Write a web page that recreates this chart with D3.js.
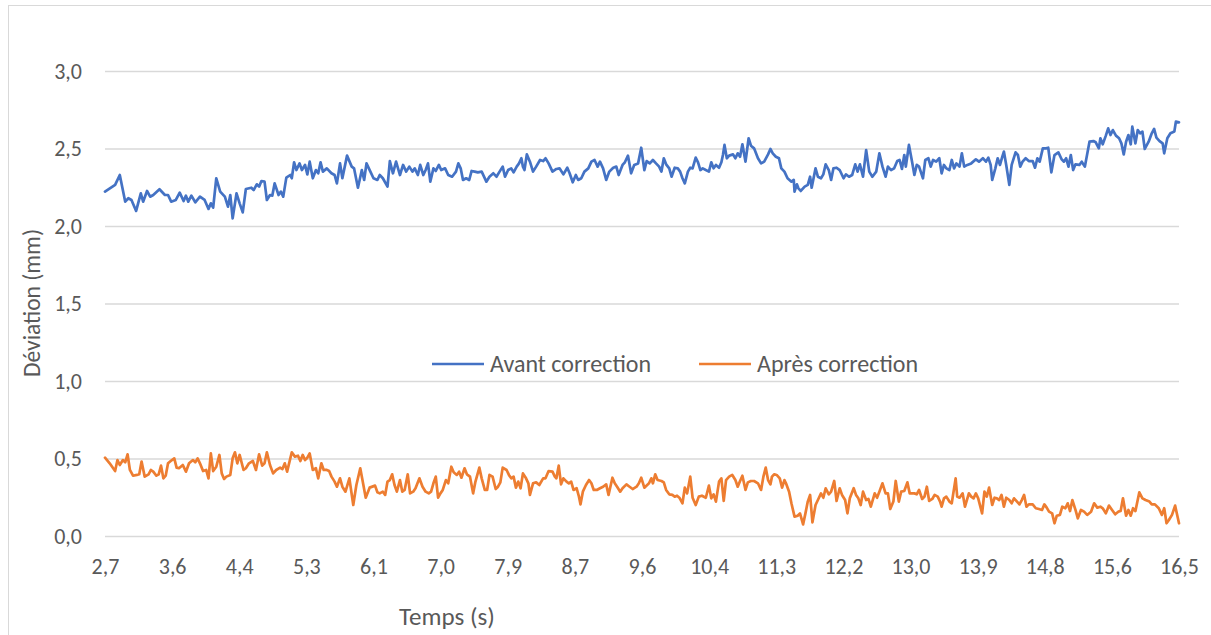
<!DOCTYPE html>
<html><head><meta charset="utf-8">
<script src="https://cdn.jsdelivr.net/npm/d3@7"></script>
<style>
html,body{margin:0;padding:0;background:#fff;}
svg{display:block;}
text{font-family:Carlito,Calibri,Lato,"Open Sans",sans-serif;fill:#595959;}
</style></head>
<body>
<svg id="chart" width="1211" height="635"></svg>
<script>
// ---- data ----
const seriesNames = ["Avant correction", "Après correction"];
const yTicks = [0, 0.5, 1.0, 1.5, 2.0, 2.5, 3.0];
const xTickTimes = [2.7, 3.5625, 4.425, 5.2875, 6.15, 7.0125, 7.875, 8.7375, 9.6, 10.4625, 11.325, 12.1875, 13.05, 13.9125, 14.775, 15.6375, 16.5];
const xTickLabels = ["2,7","3,6","4,4","5,3","6,1","7,0","7,9","8,7","9,6","10,4","11,3","12,2","13,0","13,9","14,8","15,6","16,5"];

const avantTime = [2.70,2.83,2.89,2.96,3.00,3.04,3.10,3.16,3.19,3.24,3.28,3.32,3.40,3.47,3.51,3.55,3.61,3.66,3.71,3.74,3.77,3.81,3.86,3.92,3.98,4.03,4.06,4.09,4.13,4.18,4.24,4.28,4.31,4.34,4.39,4.43,4.47,4.51,4.58,4.61,4.65,4.68,4.71,4.75,4.78,4.82,4.85,4.88,4.93,4.96,4.99,5.03,5.08,5.10,5.13,5.16,5.20,5.23,5.27,5.30,5.33,5.37,5.41,5.44,5.47,5.50,5.55,5.61,5.65,5.68,5.72,5.75,5.81,5.87,5.90,5.95,6.00,6.03,6.06,6.11,6.15,
6.20,6.23,6.27,6.33,6.36,6.40,6.44,6.49,6.53,6.57,6.61,6.65,6.68,6.72,6.75,6.79,6.82,6.85,6.88,6.92,6.95,6.99,7.02,7.07,7.11,7.16,7.21,7.24,7.27,7.30,7.34,7.38,7.41,7.45,7.49,7.54,7.60,7.64,7.69,7.73,7.77,7.81,7.84,7.88,7.92,7.95,7.99,8.02,8.05,8.07,8.09,8.12,8.16,8.20,8.24,8.29,8.33,8.36,8.40,8.45,8.50,8.54,8.59,8.64,8.67,8.71,8.75,8.78,8.82,8.86,8.91,8.95,8.99,9.03,9.06,9.10,9.14,9.18,9.23,9.27,9.30,9.35,9.38,9.42,9.46,9.50,9.55,9.59,9.63,
9.66,9.70,9.74,9.78,9.82,9.85,9.88,9.91,9.95,9.98,10.02,10.06,10.09,10.12,10.15,10.19,10.22,10.25,10.29,10.32,10.35,10.38,10.42,10.46,10.49,10.52,10.55,10.59,10.62,10.64,10.66,10.69,10.72,10.77,10.80,10.83,10.86,10.89,10.93,10.95,10.97,11.00,11.04,11.09,11.13,11.17,11.22,11.25,11.28,11.32,11.36,11.39,11.43,11.47,11.52,11.55,11.56,11.59,11.61,11.64,11.69,11.73,11.76,11.78,11.83,11.86,11.90,11.93,11.96,12.00,12.03,12.06,12.10,12.14,12.19,12.22,12.26,12.30,12.34,12.37,12.40,12.44,12.48,12.52,12.56,12.61,12.65,12.69,12.73,12.76,12.80,12.84,12.88,12.91,12.94,12.97,12.99,13.03,13.07,13.10,
13.13,13.16,13.21,13.24,13.28,13.31,13.34,13.38,13.42,13.45,13.48,13.51,13.55,13.58,13.61,13.64,13.68,13.71,13.74,13.78,13.83,13.89,13.93,13.98,14.02,14.05,14.08,14.10,14.14,14.17,14.20,14.23,14.25,14.28,14.32,14.35,14.40,14.43,14.46,14.49,14.53,14.57,14.62,14.65,14.68,14.71,14.75,14.79,14.82,14.86,14.90,14.95,14.99,15.02,15.05,15.08,15.11,15.14,15.17,15.22,15.25,15.29,15.35,15.40,15.43,15.47,15.49,15.52,15.56,15.59,15.62,15.65,15.69,15.73,15.76,15.79,15.82,15.85,15.88,15.90,15.94,15.97,16.00,16.03,16.06,16.11,16.15,16.18,16.21,16.25,16.29,16.31,16.35,16.39,16.44,16.46,16.50];
const avantValues = [2.222,2.265,2.329,2.157,2.179,2.168,2.097,2.211,2.157,2.226,2.189,2.200,2.237,2.200,2.200,2.157,2.168,2.215,2.161,2.196,2.157,2.196,2.153,2.189,2.168,2.110,2.146,2.118,2.308,2.222,2.189,2.125,2.200,2.049,2.211,2.146,2.088,2.239,2.247,2.232,2.269,2.254,2.290,2.286,2.168,2.200,2.196,2.275,2.200,2.222,2.189,2.312,2.329,2.308,2.411,2.361,2.404,2.361,2.394,2.333,2.415,2.308,2.361,2.340,2.411,2.351,2.372,2.340,2.329,2.275,2.404,2.308,2.454,2.383,2.372,2.247,2.361,2.297,2.404,2.351,2.308,
2.297,2.329,2.308,2.254,2.419,2.340,2.415,2.329,2.394,2.351,2.383,2.351,2.372,2.329,2.394,2.329,2.361,2.404,2.286,2.372,2.355,2.394,2.361,2.372,2.329,2.318,2.351,2.404,2.372,2.297,2.308,2.297,2.355,2.351,2.346,2.351,2.286,2.318,2.340,2.318,2.351,2.383,2.318,2.361,2.372,2.346,2.383,2.404,2.437,2.383,2.361,2.462,2.415,2.351,2.383,2.426,2.419,2.437,2.404,2.351,2.368,2.372,2.333,2.376,2.340,2.282,2.329,2.297,2.308,2.351,2.372,2.415,2.426,2.383,2.415,2.372,2.297,2.351,2.376,2.383,2.329,2.394,2.411,2.454,2.340,2.394,2.404,2.505,2.361,
2.419,2.404,2.426,2.404,2.383,2.351,2.437,2.398,2.372,2.318,2.376,2.372,2.351,2.308,2.275,2.351,2.376,2.372,2.441,2.411,2.361,2.372,2.361,2.351,2.411,2.372,2.394,2.376,2.411,2.458,2.523,2.437,2.454,2.462,2.437,2.469,2.447,2.527,2.415,2.490,2.566,2.518,2.501,2.437,2.404,2.415,2.462,2.497,2.469,2.447,2.437,2.372,2.351,2.308,2.286,2.297,2.222,2.269,2.243,2.226,2.254,2.265,2.318,2.247,2.372,2.318,2.308,2.333,2.398,2.361,2.297,2.372,2.376,2.361,2.308,2.333,2.318,2.329,2.398,2.351,2.398,2.318,2.490,2.351,2.318,2.351,2.469,2.383,2.318,2.383,2.361,2.372,2.419,2.426,2.368,2.458,2.383,2.523,2.415,2.329,
2.394,2.383,2.308,2.426,2.437,2.383,2.426,2.415,2.437,2.340,2.394,2.372,2.361,2.426,2.372,2.404,2.383,2.469,2.383,2.394,2.404,2.430,2.415,2.437,2.415,2.441,2.394,2.297,2.372,2.437,2.394,2.447,2.480,2.394,2.265,2.394,2.475,2.458,2.383,2.415,2.437,2.419,2.419,2.376,2.437,2.415,2.501,2.501,2.505,2.346,2.458,2.475,2.432,2.415,2.437,2.383,2.458,2.361,2.398,2.394,2.415,2.383,2.544,2.548,2.540,2.501,2.566,2.527,2.583,2.630,2.587,2.619,2.583,2.566,2.533,2.462,2.544,2.587,2.527,2.641,2.533,2.619,2.598,2.609,2.497,2.544,2.598,2.626,2.570,2.548,2.533,2.469,2.566,2.598,2.609,2.673,2.669];

const apresTime = [2.70,2.76,2.83,2.86,2.89,2.93,2.96,2.99,3.02,3.06,3.11,3.14,3.17,3.21,3.26,3.29,3.32,3.36,3.39,3.42,3.45,3.48,3.51,3.56,3.59,3.62,3.65,3.70,3.74,3.78,3.83,3.86,3.89,3.92,3.96,4.00,4.03,4.06,4.09,4.13,4.17,4.20,4.23,4.26,4.31,4.34,4.37,4.40,4.43,4.48,4.51,4.55,4.60,4.64,4.68,4.72,4.75,4.78,4.82,4.86,4.90,4.95,4.98,5.01,5.04,5.10,5.14,5.18,5.21,5.24,5.27,5.30,5.33,5.37,5.41,5.44,5.48,5.51,5.55,5.58,5.61,5.65,5.68,5.72,5.75,5.79,5.84,5.89,5.93,5.98,6.02,6.05,6.10,
6.17,6.20,6.23,6.27,6.30,6.33,6.36,6.39,6.42,6.45,6.49,6.52,6.55,6.59,6.62,6.66,6.69,6.74,6.78,6.82,6.86,6.89,6.92,6.95,6.98,7.01,7.04,7.08,7.11,7.15,7.18,7.22,7.25,7.28,7.32,7.35,7.39,7.43,7.46,7.51,7.54,7.58,7.61,7.64,7.68,7.72,7.75,7.78,7.81,7.86,7.89,7.92,7.95,7.98,8.01,8.04,8.07,8.11,8.14,8.16,8.20,8.24,8.28,8.33,8.36,8.40,8.45,8.48,8.50,8.53,8.56,8.59,8.63,8.66,8.69,8.72,8.76,8.79,8.81,8.84,8.88,8.92,8.95,8.98,9.02,9.06,9.10,9.14,9.17,9.22,9.25,9.28,9.32,9.35,9.40,9.44,9.48,9.53,9.56,9.59,9.63,
9.69,9.72,9.74,9.77,9.80,9.85,9.88,9.91,9.95,9.99,10.02,10.05,10.08,10.12,10.15,10.18,10.22,10.25,10.29,10.33,10.37,10.42,10.46,10.49,10.52,10.55,10.59,10.62,10.65,10.68,10.72,10.76,10.80,10.83,10.86,10.89,10.93,10.96,11.00,11.04,11.09,11.13,11.16,11.19,11.22,11.25,11.27,11.30,11.33,11.37,11.40,11.43,11.45,11.49,11.52,11.56,11.60,11.63,11.67,11.70,11.73,11.76,11.79,11.83,11.86,11.90,11.93,11.96,12.00,12.03,12.07,12.10,12.14,12.17,12.21,12.24,12.27,12.32,12.35,12.38,12.41,12.44,12.48,12.51,12.54,12.59,12.62,12.65,12.69,12.73,12.76,12.79,12.83,12.86,12.90,12.93,12.97,13.01,13.04,13.10,
13.13,13.16,13.20,13.23,13.26,13.29,13.33,13.36,13.40,13.43,13.45,13.48,13.51,13.55,13.58,13.63,13.65,13.68,13.72,13.75,13.80,13.83,13.86,13.89,13.92,13.97,14.00,14.03,14.06,14.10,14.13,14.16,14.19,14.22,14.25,14.28,14.32,14.35,14.38,14.41,14.45,14.48,14.51,14.54,14.57,14.62,14.66,14.70,14.74,14.77,14.80,14.83,14.87,14.90,14.93,14.97,15.00,15.04,15.07,15.10,15.13,15.17,15.20,15.24,15.28,15.32,15.37,15.41,15.45,15.49,15.52,15.56,15.60,15.64,15.68,15.72,15.75,15.78,15.82,15.85,15.88,15.91,15.94,15.99,16.03,16.07,16.12,16.15,16.19,16.24,16.28,16.31,16.34,16.37,16.41,16.45,16.50];
const apresValues = [0.505,0.469,0.419,0.490,0.458,0.490,0.475,0.527,0.426,0.389,0.394,0.398,0.480,0.383,0.398,0.426,0.415,0.389,0.398,0.454,0.372,0.389,0.469,0.490,0.501,0.441,0.437,0.458,0.415,0.469,0.490,0.475,0.501,0.469,0.419,0.426,0.372,0.533,0.419,0.447,0.523,0.404,0.368,0.383,0.394,0.501,0.540,0.469,0.523,0.426,0.437,0.469,0.484,0.426,0.527,0.454,0.469,0.540,0.458,0.404,0.426,0.441,0.432,0.469,0.415,0.540,0.512,0.518,0.484,0.523,0.490,0.505,0.533,0.426,0.437,0.372,0.469,0.426,0.426,0.419,0.383,0.351,0.318,0.372,0.318,0.286,0.372,0.200,0.329,0.437,0.329,0.247,0.312,
0.325,0.282,0.275,0.286,0.265,0.351,0.361,0.398,0.329,0.286,0.361,0.286,0.297,0.398,0.275,0.286,0.308,0.372,0.318,0.286,0.275,0.286,0.340,0.383,0.247,0.275,0.297,0.361,0.340,0.447,0.411,0.394,0.415,0.376,0.437,0.398,0.383,0.275,0.351,0.441,0.372,0.297,0.297,0.394,0.383,0.303,0.318,0.346,0.441,0.426,0.394,0.372,0.383,0.312,0.351,0.308,0.404,0.372,0.340,0.265,0.340,0.346,0.329,0.372,0.372,0.419,0.415,0.383,0.372,0.454,0.333,0.372,0.351,0.340,0.351,0.297,0.308,0.254,0.204,0.286,0.329,0.361,0.340,0.297,0.297,0.308,0.318,0.333,0.265,0.376,0.340,0.318,0.286,0.308,0.333,0.318,0.303,0.318,0.340,0.376,0.312,
0.340,0.372,0.340,0.398,0.361,0.355,0.346,0.297,0.269,0.265,0.254,0.260,0.247,0.211,0.312,0.275,0.383,0.247,0.200,0.254,0.260,0.247,0.325,0.243,0.269,0.222,0.351,0.372,0.226,0.361,0.383,0.394,0.361,0.318,0.355,0.389,0.297,0.346,0.355,0.355,0.340,0.297,0.383,0.441,0.361,0.333,0.383,0.398,0.394,0.372,0.312,0.361,0.340,0.286,0.211,0.125,0.131,0.146,0.075,0.146,0.222,0.265,0.088,0.200,0.232,0.275,0.247,0.308,0.269,0.286,0.355,0.226,0.308,0.265,0.232,0.146,0.243,0.308,0.265,0.243,0.200,0.286,0.232,0.239,0.189,0.275,0.247,0.286,0.340,0.275,0.275,0.174,0.222,0.355,0.222,0.286,0.290,0.346,0.275,0.275,
0.269,0.297,0.239,0.254,0.318,0.226,0.239,0.265,0.254,0.222,0.189,0.243,0.254,0.222,0.211,0.372,0.254,0.247,0.275,0.189,0.275,0.254,0.243,0.275,0.243,0.146,0.286,0.254,0.312,0.200,0.247,0.243,0.232,0.265,0.189,0.247,0.232,0.211,0.243,0.226,0.204,0.232,0.265,0.189,0.204,0.204,0.179,0.174,0.168,0.204,0.183,0.157,0.146,0.082,0.131,0.136,0.189,0.179,0.211,0.161,0.232,0.168,0.114,0.168,0.157,0.136,0.157,0.211,0.183,0.189,0.179,0.146,0.196,0.168,0.140,0.157,0.161,0.243,0.131,0.168,0.131,0.179,0.161,0.282,0.243,0.232,0.222,0.204,0.204,0.179,0.136,0.179,0.082,0.103,0.136,0.196,0.082];

const colors = ["#4472C4", "#ED7D31"];

// ---- drawing ----
const svg = d3.select("#chart");
const plot = {left: 105, right: 1179, top: 71, bottom: 536};

// chart border
svg.append("rect").attr("x", 8.5).attr("y", 5.5).attr("width", 1220).attr("height", 650)
  .attr("fill", "#fff").attr("stroke", "#d9d9d9").attr("stroke-width", 1);

const x = d3.scaleLinear().domain([xTickTimes[0], xTickTimes[xTickTimes.length - 1]]).range([plot.left, plot.right]);
const y = d3.scaleLinear().domain([0, 3]).range([plot.bottom, plot.top]);

// gridlines via axis
const yAxis = d3.axisLeft(y).tickValues(yTicks).tickSize(-(plot.right - plot.left))
  .tickPadding(23).tickFormat(d => d3.format(".1f")(d).replace(".", ","));
const gy = svg.append("g").attr("transform", `translate(${plot.left},0)`).call(yAxis);
gy.select(".domain").remove();
gy.selectAll(".tick line").attr("stroke", "#d9d9d9").attr("stroke-width", 1.3);
gy.selectAll(".tick text").attr("font-size", 22).attr("fill", "#595959");

const xAxis = d3.axisBottom(x).tickValues(xTickTimes).tickSize(0).tickPadding(22)
  .tickFormat((d, i) => xTickLabels[i]);
const gx = svg.append("g").attr("transform", `translate(0,${plot.bottom})`).call(xAxis);
gx.select(".domain").remove();
gx.selectAll(".tick text").attr("font-size", 22).attr("fill", "#595959");

// lines
const series = [
  avantTime.map((t, i) => ({t, v: avantValues[i]})),
  apresTime.map((t, i) => ({t, v: apresValues[i]}))
];
const line = d3.line().x(d => x(d.t)).y(d => y(d.v));
series.forEach((s, k) => {
  svg.append("path").datum(s).attr("d", line).attr("fill", "none")
    .attr("stroke", colors[k]).attr("stroke-width", 2.7)
    .attr("stroke-linejoin", "round").attr("stroke-linecap", "round");
});

// legend
const legendItems = [{x: 432, tx: 490}, {x: 699, tx: 757}];
const legendY = 364;
seriesNames.forEach((name, k) => {
  svg.append("line").attr("x1", legendItems[k].x).attr("x2", legendItems[k].x + 52)
    .attr("y1", legendY).attr("y2", legendY).attr("stroke", colors[k]).attr("stroke-width", 2.7);
  svg.append("text").attr("x", legendItems[k].tx).attr("y", legendY).attr("dy", "0.35em")
    .attr("font-size", 24).text(name);
});

// axis titles
svg.append("text").attr("transform", "translate(32,303) rotate(-90)")
  .attr("text-anchor", "middle").attr("dy", "0.35em").attr("font-size", 23.5).text("Déviation (mm)");
svg.append("text").attr("x", 447).attr("y", 616).attr("text-anchor", "middle")
  .attr("dy", "0.35em").attr("font-size", 25).text("Temps (s)");
</script>
</body></html>
